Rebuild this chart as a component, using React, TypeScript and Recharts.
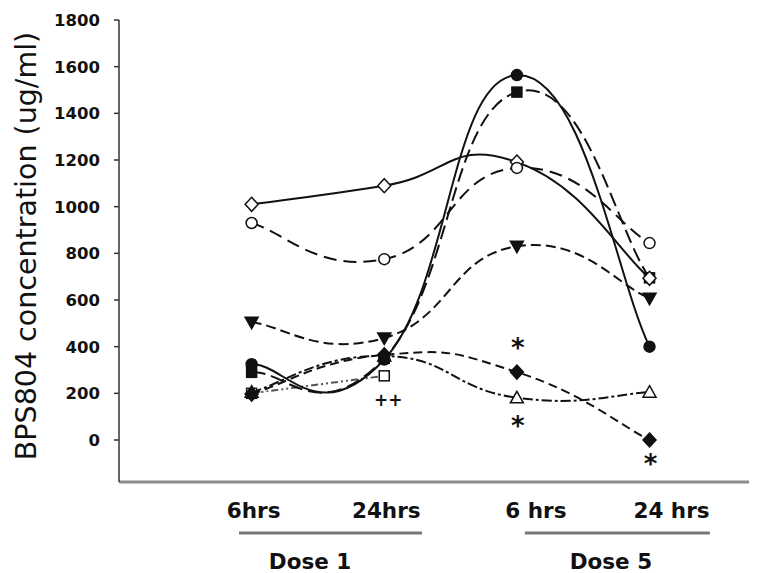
import React from "react";
import { LineChart, Line, XAxis, YAxis, ReferenceDot } from "recharts";

// time points (x positions on a numeric axis) and their labels
const TIME_POINTS = [1, 2, 3, 4];
const TIME_LABELS = ["6hrs", "24hrs", "6 hrs", "24 hrs"];
const DOSE_LABELS = ["Dose 1", "Dose 5"];
const Y_TICKS = [0, 200, 400, 600, 800, 1000, 1200, 1400, 1600, 1800];

// one array per subject, BPS804 concentration (ug/ml)
const OPEN_DIAMOND = [1010, 1090, 1191, 693];
const OPEN_CIRCLE = [930, 775, 1166, 844];
const FILLED_CIRCLE = [325, 345, 1564, 400];
const FILLED_SQUARE = [290, 350, 1491, 695];
const FILLED_TRI_DOWN = [505, 437, 830, 608];
const FILLED_DIAMOND = [197, 365, 291, 0];
const OPEN_TRIANGLE = [205, 360, 181, 205];
const OPEN_SQUARE = [200, 275, null, null];

// significance marks
const ANNOTATIONS = [
  { x: 3, y: 420, text: "*" },
  { x: 3, y: 86, text: "*" },
  { x: 4, y: -77, text: "*" },
  { x: 2, y: 167, text: "++" },
];

const INK = "#111";
const FONT = "'DejaVu Sans', Arial, sans-serif";

type Shape = "circle" | "square" | "diamond" | "triangle" | "triangleDown";

const SERIES: {
  key: string;
  values: (number | null)[];
  shape: Shape;
  filled: boolean;
  dash?: string;
  color?: string;
}[] = [
  { key: "openSquare", values: OPEN_SQUARE, shape: "square", filled: false, dash: "7 3 2 3 2 3", color: "#555" },
  { key: "openTriangle", values: OPEN_TRIANGLE, shape: "triangle", filled: false, dash: "10 3 3 3" },
  { key: "filledSquare", values: FILLED_SQUARE, shape: "square", filled: true, dash: "14 6" },
  { key: "openDiamond", values: OPEN_DIAMOND, shape: "diamond", filled: false },
  { key: "openCircle", values: OPEN_CIRCLE, shape: "circle", filled: false, dash: "13 7" },
  { key: "filledTriDown", values: FILLED_TRI_DOWN, shape: "triangleDown", filled: true, dash: "10 5" },
  { key: "filledDiamond", values: FILLED_DIAMOND, shape: "diamond", filled: true, dash: "9 5" },
  { key: "filledCircle", values: FILLED_CIRCLE, shape: "circle", filled: true },
];

const data = TIME_POINTS.map((x, i) => {
  const row: Record<string, number | null> = { x };
  SERIES.forEach((s) => (row[s.key] = s.values[i]));
  return row;
});

// Excel-style smoothed line (cardinal-like bezier through every point)
const SMOOTH = 0.25;
function excelSmooth(context: any) {
  let pts: number[][] = [];
  return {
    areaStart() {},
    areaEnd() {},
    lineStart() {
      pts = [];
    },
    point(x: number, y: number) {
      pts.push([+x, +y]);
    },
    lineEnd() {
      const n = pts.length;
      if (!n) return;
      context.moveTo(pts[0][0], pts[0][1]);
      for (let i = 0; i < n - 1; i++) {
        const p0 = pts[Math.max(i - 1, 0)];
        const p1 = pts[i];
        const p2 = pts[i + 1];
        const p3 = pts[Math.min(i + 2, n - 1)];
        context.bezierCurveTo(
          p1[0] + (p2[0] - p0[0]) * SMOOTH,
          p1[1] + (p2[1] - p0[1]) * SMOOTH,
          p2[0] - (p3[0] - p1[0]) * SMOOTH,
          p2[1] - (p3[1] - p1[1]) * SMOOTH,
          p2[0],
          p2[1]
        );
      }
    },
  };
}

function Marker({ cx, cy, shape, filled }: any) {
  if (cx == null || cy == null || Number.isNaN(cy)) return null;
  const fill = filled ? INK : "#fff";
  const common = { fill, stroke: INK, strokeWidth: 1.5 };
  switch (shape as Shape) {
    case "circle":
      return <circle cx={cx} cy={cy} r={5.5} {...common} />;
    case "square":
      return <rect x={cx - 5} y={cy - 5} width={10} height={10} {...common} />;
    case "diamond":
      return (
        <polygon
          points={`${cx},${cy - 7} ${cx + 6.5},${cy} ${cx},${cy + 7} ${cx - 6.5},${cy}`}
          {...common}
        />
      );
    case "triangle":
      return (
        <polygon
          points={`${cx},${cy - 6.5} ${cx + 6.5},${cy + 5} ${cx - 6.5},${cy + 5}`}
          {...common}
        />
      );
    case "triangleDown":
      return (
        <polygon
          points={`${cx - 6.5},${cy - 5} ${cx + 6.5},${cy - 5} ${cx},${cy + 6.5}`}
          {...common}
        />
      );
  }
  return null;
}

// label nudges, underline extents and dose label positions (px from tick)
const TICK_DX = [2, 2, 19, 22];
const GROUP_STYLE: Record<number, { from: number; to: number; label: number; dose: number }> = {
  0: { from: -12.6, to: 170.4, label: 58.4, dose: 0 },
  2: { from: 8, to: 193, label: 94, dose: 1 },
};

function TimeTick(props: any) {
  const { x, y, payload } = props;
  const i = TIME_POINTS.indexOf(payload.value);
  const g = GROUP_STYLE[i];
  return (
    <g>
      <text
        x={x + TICK_DX[i]}
        y={y + 36}
        textAnchor="middle"
        fontFamily={FONT}
        fontWeight="bold"
        fontSize={21.5}
        fill={INK}
      >
        {TIME_LABELS[i]}
      </text>
      {g && (
        <>
          <line x1={x + g.from} x2={x + g.to} y1={y + 51} y2={y + 51} stroke="#777" strokeWidth={3} />
          <text
            x={x + g.label}
            y={y + 87}
            textAnchor="middle"
            fontFamily={FONT}
            fontWeight="bold"
            fontSize={21.5}
            fill={INK}
          >
            {DOSE_LABELS[g.dose]}
          </text>
        </>
      )}
    </g>
  );
}

function YTitle() {
  return (
    <text
      x={36}
      y={246}
      transform="rotate(-90, 36, 246)"
      textAnchor="middle"
      fontFamily={FONT}
      fontSize={28.5}
      fill={INK}
    >
      BPS804 concentration (ug/ml)
    </text>
  );
}

function AnnotationMark({ cx, cy, text }: any) {
  const star = text === "*";
  const fs = star ? 26 : 17;
  return (
    <text
      x={cx + (star ? 1 : 4)}
      y={cy + fs * (star ? 0.58 : 0.32)}
      textAnchor="middle"
      fontFamily={FONT}
      fontWeight="bold"
      fontSize={fs}
      fill={INK}
    >
      {text}
    </text>
  );
}

export default function App() {
  return (
    <div style={{ width: 773, height: 573, background: "#fff" }}>
      <style>{"body{margin:0}"}</style>
      <LineChart
        width={773}
        height={573}
        data={data}
        margin={{ top: 20, right: 24, bottom: 0, left: 0 }}
      >
        <XAxis
          dataKey="x"
          type="number"
          domain={[0, 4.75]}
          ticks={TIME_POINTS}
          interval={0}
          height={91}
          tickSize={0}
          tickMargin={0}
          tickLine={false}
          axisLine={{ stroke: "#8a8a8a", strokeWidth: 3 }}
          tick={<TimeTick />}
        />
        <YAxis
          type="number"
          domain={[-180, 1800]}
          ticks={Y_TICKS}
          interval={0}
          width={119}
          tickSize={5}
          tickMargin={14}
          axisLine={{ stroke: "#333", strokeWidth: 1.5 }}
          tickLine={{ stroke: "#333", strokeWidth: 1.5 }}
          tick={{ fontFamily: FONT, fontWeight: "bold", fontSize: 16.5, fill: INK }}
          label={<YTitle />}
        />
        {SERIES.map((s) => (
          <Line
            key={s.key}
            dataKey={s.key}
            type={excelSmooth as any}
            stroke={s.color ?? INK}
            strokeWidth={2}
            strokeDasharray={s.dash}
            isAnimationActive={false}
            activeDot={false}
            dot={(p: any) => (
              <Marker key={`${s.key}-${p.index}`} cx={p.cx} cy={p.cy} shape={s.shape} filled={s.filled} />
            )}
          />
        ))}
        {ANNOTATIONS.map((a, i) => (
          <ReferenceDot
            key={i}
            x={a.x}
            y={a.y}
            r={0}
            shape={(p: any) => <AnnotationMark cx={p.cx} cy={p.cy} text={a.text} />}
          />
        ))}
      </LineChart>
    </div>
  );
}
